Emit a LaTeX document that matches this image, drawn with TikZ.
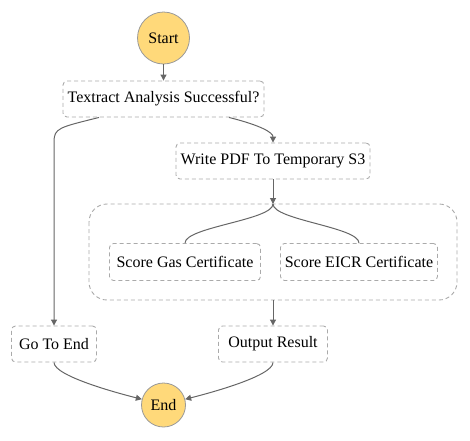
\documentclass[tikz,border=0pt]{standalone}
\usepackage{fontspec}
\setmainfont{Liberation Serif}
\usetikzlibrary{arrows.meta}
\definecolor{boxline}{HTML}{AAAAAA}
\definecolor{edgecol}{HTML}{666666}
\definecolor{circfill}{HTML}{FFD97A}
\definecolor{circline}{HTML}{999999}
\begin{document}
\begin{tikzpicture}[x=1pt,y=-1pt,
  statebox/.style={draw=boxline, dashed, dash pattern=on 4pt off 3pt, rounded corners=4pt, line width=0.9pt,
    inner sep=0pt, font=\fontsize{16}{19}\selectfont, text=black},
  endpoint/.style={circle, draw=circline, fill=circfill, line width=0.8pt, inner sep=0pt,
    font=\fontsize{16}{19}\selectfont},
  conn/.style={draw=edgecol, line width=1pt, -{Triangle[length=6pt,width=6pt]}},
  branch/.style={draw=edgecol, line width=1pt}]
\useasboundingbox (0,0) rectangle (470,440);
\node[endpoint, minimum size=52pt] (start) at (163.5,38) {Start};
\node[statebox, minimum width=201pt, minimum height=36pt] (textract) at (163.5,99) {Textract Analysis Successful?};
\node[statebox, minimum width=194pt, minimum height=36pt] (write) at (273,161) {Write PDF To Temporary S3};
\draw[boxline, dashed, dash pattern=on 4pt off 3pt, rounded corners=18pt, line width=0.9pt] (89,204) rectangle (457,300);
\coordinate (partop) at (273,204);
\coordinate (parbot) at (273,300);
\coordinate (gobend) at (54,142);
\node[statebox, minimum width=151pt, minimum height=37pt] (gas) at (185,262) {Score Gas Certificate};
\node[statebox, minimum width=157pt, minimum height=37pt] (eicr) at (359,262) {Score EICR Certificate};
\node[statebox, minimum width=85pt, minimum height=36pt] (goto) at (54,344) {Go To End};
\node[statebox, minimum width=109pt, minimum height=36pt] (output) at (273,344) {Output Result};
\node[endpoint, minimum size=44pt] (end) at (163.5,405) {End};

\draw[conn] (start.south) -- (textract.north);
\draw[conn] ([xshift=-64.5pt]textract.south) .. controls +(-40,10) and +(0,-14) .. (gobend) -- (goto.north);
\draw[conn] ([xshift=65.5pt]textract.south) .. controls +(32,8) and +(0,-10) .. (write.north);
\draw[conn] (write.south) -- (partop);
\draw[branch] (partop) .. controls +(0,16) and +(0,-16) .. (gas.north);
\draw[branch] (partop) .. controls +(0,16) and +(0,-16) .. (eicr.north);
\draw[conn] (parbot) -- (output.north);
\draw[conn] (goto.south) .. controls +(0,14) and +(-20,-5) .. (end.165);
\draw[conn] (output.south) .. controls +(0,14) and +(20,-5) .. (end.15);
\end{tikzpicture}
\end{document}
